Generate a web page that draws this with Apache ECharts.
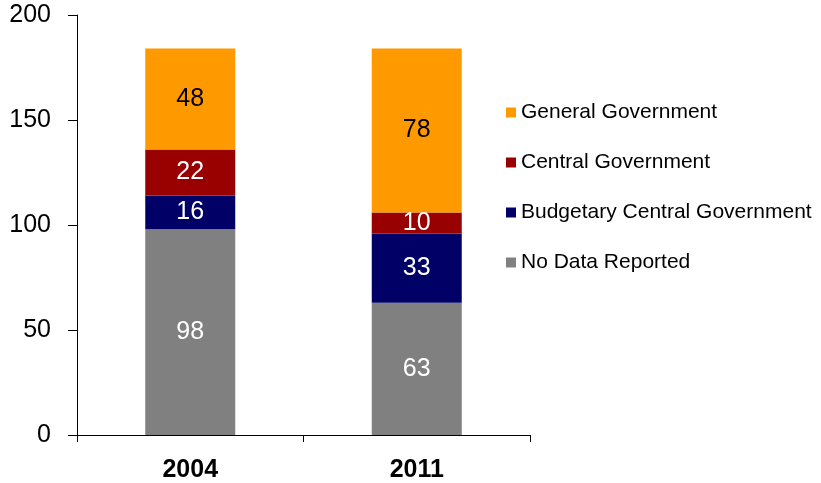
<!DOCTYPE html>
<html>
<head>
<meta charset="utf-8">
<script src="https://cdn.jsdelivr.net/npm/echarts@6/dist/echarts.min.js"></script>
<style>
  html, body { margin: 0; padding: 0; background: #fff; }
  #chart { width: 821px; height: 483px; }
</style>
</head>
<body>
<div id="chart"></div>
<script>
// Years on the category axis
const years = ['2004', '2011'];

// Stacked segments, bottom to top
const noDataReported = [98, 63];
const budgetaryCentral = [16, 33];
const centralGovernment = [22, 10];
const generalGovernment = [48, 78];

// Value axis ticks
const yTicks = [0, 50, 100, 150, 200];

const FONT = 'Liberation Sans, Arial, sans-serif';

function stackSeries(name, values, color, labelColor) {
  return {
    name: name,
    type: 'bar',
    stack: 'total',
    data: values,
    barWidth: 90,
    itemStyle: { color: color },
    label: {
      show: true,
      position: 'inside',
      color: labelColor,
      fontSize: 25,
      fontFamily: FONT
    },
    emphasis: { disabled: true }
  };
}

const chart = echarts.init(document.getElementById('chart'));
chart.setOption({
  animation: false,
  backgroundColor: '#fff',
  grid: { left: 77, right: 291, top: 15, bottom: 46, containLabel: false },
  legend: {
    orient: 'vertical',
    left: 506,
    top: 102,
    padding: 0,
    itemWidth: 10,
    itemHeight: 10,
    itemGap: 29,
    icon: 'rect',
    data: ['General Government', 'Central Government', 'Budgetary Central Government', 'No Data Reported'],
    textStyle: { fontSize: 21, color: '#000', fontFamily: FONT }
  },
  xAxis: {
    type: 'category',
    data: years,
    axisLine: { lineStyle: { color: '#000', width: 1 } },
    axisTick: { show: true, alignWithLabel: false, length: 7, inside: false, lineStyle: { color: '#000' } },
    axisLabel: { fontSize: 25, fontWeight: 'bold', color: '#000', fontFamily: FONT, margin: 23 },
    splitLine: { show: false }
  },
  yAxis: {
    type: 'value',
    min: yTicks[0],
    max: yTicks[yTicks.length - 1],
    interval: yTicks[1] - yTicks[0],
    axisLine: { show: true, lineStyle: { color: '#000', width: 1 } },
    axisTick: { show: true, length: 9, lineStyle: { color: '#000' } },
    axisLabel: { fontSize: 25, color: '#000', fontFamily: FONT, margin: 26 },
    splitLine: { show: false }
  },
  series: [
    stackSeries('No Data Reported', noDataReported, '#808080', '#fff'),
    stackSeries('Budgetary Central Government', budgetaryCentral, '#000066', '#fff'),
    stackSeries('Central Government', centralGovernment, '#990000', '#fff'),
    stackSeries('General Government', generalGovernment, '#FF9900', '#000')
  ]
});
</script>
</body>
</html>
